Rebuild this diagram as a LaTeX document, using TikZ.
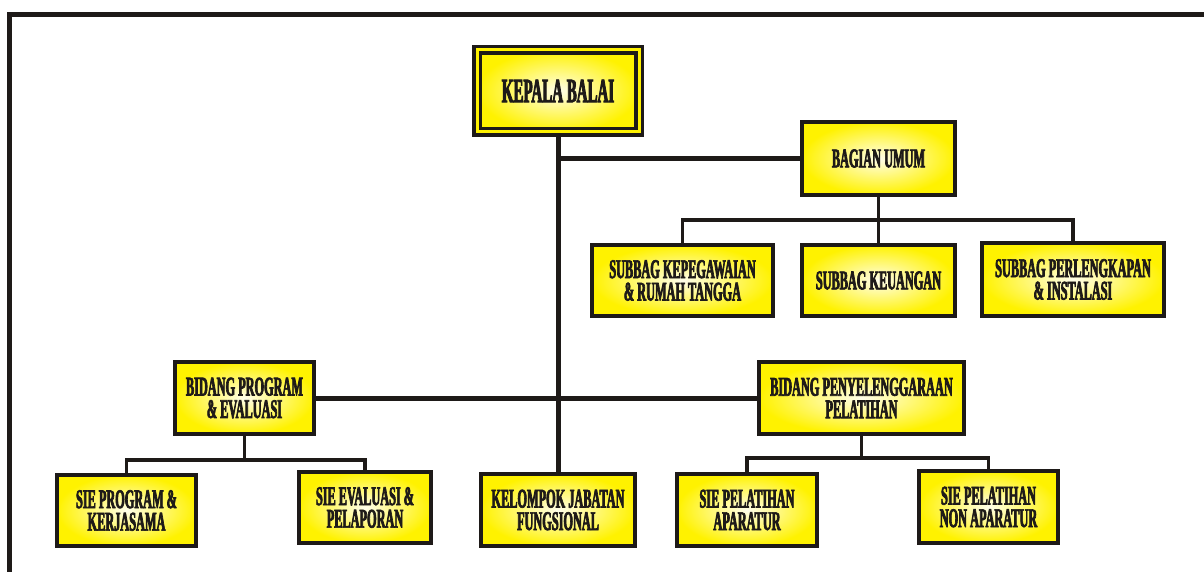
\documentclass[tikz,border=0pt]{standalone}
\usepackage{fontspec}
\usepackage{tikz}
\usetikzlibrary{calc}
\newfontfamily\orgfont{Liberation Serif}[UprightFont=* Bold,FakeStretch=0.455,FakeBold=2.5]
\newfontfamily\headfont{Liberation Serif}[UprightFont=* Bold,FakeStretch=0.44,FakeBold=2.5]
\definecolor{boxyellow}{RGB}{255,242,0}
\definecolor{ink}{RGB}{30,26,24}

\begin{document}
\begin{tikzpicture}[x=1pt, y=-1pt,
    unit/.style = {draw=ink, line width=4pt, inner color=boxyellow!8, outer color=boxyellow,
                   text=ink, align=center, inner sep=0pt,
                   font=\orgfont\fontsize{27}{22.5}\selectfont},
    head/.style = {unit, line width=3.5pt, double=boxyellow, double distance=3pt,
                   font=\headfont\fontsize{34}{30}\selectfont},
    link/.style = {draw=ink, line width=5pt},
    bus/.style = {draw=ink, line width=3.5pt}]
        \useasboundingbox (0,0) rectangle (1204,572);
        % outer frame
        \draw[ink, line width=5pt] (9.5,572) -- (9.5,14.5) -- (1204,14.5);
        % top level
        \node[head, minimum width=162, minimum height=82] at (558, 91) (kepala) {KEPALA BALAI};
        \node[unit, minimum width=153, minimum height=73] at (878.5, 158.5) (umum) {BAGIAN UMUM};
        \node[unit, minimum width=181, minimum height=71] at (682.5, 280.5) (kepeg) {SUBBAG KEPEGAWAIAN\\ \& RUMAH TANGGA};
        \node[unit, minimum width=153, minimum height=71] at (878.5, 280.5) (keuangan) {SUBBAG KEUANGAN};
        \node[unit, minimum width=182, minimum height=73] at (1073, 279.5) (perleng) {SUBBAG PERLENGKAPAN\\ \& INSTALASI};
        % bidang
        \node[unit, minimum width=139, minimum height=72] at (244.5, 398) (program) {BIDANG PROGRAM\\ \& EVALUASI};
        \node[unit, minimum width=205, minimum height=72] at (861.5, 398) (penyel) {BIDANG PENYELENGGARAAN\\ PELATIHAN};
        % bottom row
        \node[unit, minimum width=139, minimum height=71] at (126.5, 510.5) (sieprog) {SIE PROGRAM \&\\ KERJASAMA};
        \node[unit, minimum width=132, minimum height=71] at (365, 507.5) (sieeval) {SIE EVALUASI \&\\ PELAPORAN};
        \node[unit, minimum width=154, minimum height=72] at (558, 510) (kelompok) {KELOMPOK JABATAN\\ FUNGSIONAL};
        \node[unit, minimum width=140, minimum height=72] at (747, 510) (aparatur) {SIE PELATIHAN\\ APARATUR};
        \node[unit, minimum width=139, minimum height=72] at (988.5, 507) (nonapar) {SIE PELATIHAN\\ NON APARATUR};
        % bus points
        \coordinate (umumbus) at (878.5, 220);
        \coordinate (progbus) at (244.5, 460);
        \coordinate (pelbus) at (861.5, 458);
        % connectors
        \draw[link] (kepala) -- (kelompok);
        \draw[link] (kepala.south |- umum.west) -- (umum.west);
        \draw[link] (program) -- (penyel);
        \draw[bus] (umum) -- (umumbus) -- (keuangan);
        \draw[bus] (kepeg.north) |- (umumbus) -| (perleng.north);
        \draw[bus] (program) -- (progbus);
        \draw[bus] (sieprog.north) |- (progbus) -| (sieeval.north);
        \draw[bus] (penyel) -- (pelbus);
        \draw[bus] (aparatur.north) |- (pelbus) -| (nonapar.north);
\end{tikzpicture}
\end{document}
